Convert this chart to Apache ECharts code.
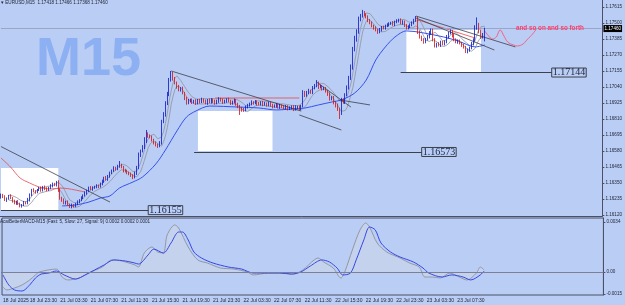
<!DOCTYPE html>
<html><head><meta charset="utf-8">
<script src="https://cdn.jsdelivr.net/npm/echarts@6/dist/echarts.min.js"></script>
<style>html,body{margin:0;padding:0;background:#BACDF4}#c{width:625px;height:305px}</style>
</head><body><div id="c"></div>
<script>
// prices are stored as points above BASE (1 point = 0.00001)
const BASE = 1.16;
const firstOpen = 250;
const closes = [
264,250,228,240,255,242,220,206,215,200,
185,192,210,205,228,265,300,290,285,300,
312,298,321,310,300,315,330,343,335,350,
300,242,225,206,215,195,178,190,185,199,
215,228,245,260,278,295,314,305,318,321,
330,325,343,362,386,375,400,422,440,458,
450,470,479,465,440,436,425,415,405,393,
420,458,551,580,602,650,702,690,681,660,
637,625,616,637,788,839,920,983,1090,1130,
1100,1069,1040,1018,1030,997,960,925,940,947,
930,940,925,945,932,950,939,925,945,932,
950,935,925,940,955,945,930,939,950,940,
925,932,945,920,900,889,880,875,895,910,
918,930,925,935,920,918,930,915,920,911,
925,910,900,903,915,895,905,903,890,900,
885,889,900,880,895,896,885,903,997,980,
1000,1011,1000,1033,1050,1069,1040,1045,1026,1030,
1011,990,954,965,930,911,880,853,947,930,
983,1033,1100,1177,1306,1380,1435,1522,1550,1572,
1560,1543,1520,1500,1480,1464,1450,1435,1450,1470,
1464,1480,1486,1495,1500,1490,1507,1515,1522,1500,
1510,1480,1464,1475,1486,1500,1520,1536,1435,1400,
1380,1363,1385,1399,1430,1450,1380,1334,1350,1340,
1363,1350,1363,1400,1428,1442,1410,1380,1363,1370,
1356,1340,1327,1292,1305,1320,1350,1378,1464,1486,
1440,1399,1418,1460];
const upWick = [
10,8,12,6,9,14,7,10,8,12, 9,7,11,6,15,10,8,12,9,7, 10,13,8,11,9,7,12,10,8,15,
20,12,9,14,8,10,7,12,9,8, 10,6,9,8,12,7,10,14,8,9, 11,8,10,12,9,14,8,10,7,12,
9,11,29,10,8,12,9,7,10,8, 12,15,18,10,20,29,29,12,9,10, 8,11,9,14,16,20,18,22,15,25,
18,12,10,15,9,12,8,10,14,9, 11,8,12,9,10,13,8,11,9,12, 10,8,14,9,11,7,12,10,9,13,
8,10,12,9,7,11,8,10,12,9, 10,14,8,11,9,12,8,10,13,9, 11,8,10,12,9,7,13,10,8,11,
9,12,8,10,14,9,11,8,20,15, 12,16,10,14,12,21,10,12,9,11, 10,8,12,9,11,8,10,12,15,10,
12,18,20,25,22,28,20,24,15,22, 14,10,12,9,11,8,12,10,14,9, 11,8,12,10,9,14,10,12,9,11,
10,8,12,9,11,12,10,14,10,12, 9,11,8,14,12,10,9,11,8,12, 10,9,12,14,10,12,8,11,9,10,
11,8,10,9,12,10,14,12,20,54, 15,12,10,6];
const dnWick = [
12,9,8,14,10,7,11,9,13,8, 10,12,7,9,8,11,10,7,12,9, 8,11,9,12,10,7,9,12,8,10,
14,12,10,9,11,8,8,10,12,9, 8,11,9,10,7,12,9,8,11,10, 9,12,8,10,11,7,9,12,8,10,
11,8,10,9,14,10,12,9,11,15, 10,12,9,14,10,8,12,15,10,12, 10,12,14,9,11,8,12,10,9,11,
14,10,12,9,11,10,14,12,9,11, 12,9,14,10,11,8,12,10,13,9, 11,10,12,9,14,10,11,8,12,10,
14,12,10,15,12,50,18,14,10,9, 11,10,12,9,14,10,11,13,9,12, 10,12,14,9,11,10,12,15,10,12,
14,11,10,13,9,12,10,11,9,12, 10,12,9,11,10,12,14,10,12,9, 11,14,12,10,15,18,12,43,14,10,
12,10,11,9,12,10,14,12,10,11, 12,10,14,9,11,12,10,13,9,11, 10,12,9,11,8,10,12,9,11,10,
12,9,11,10,12,9,10,11,14,12, 10,12,9,11,10,14,12,10,11,9, 12,10,11,9,12,10,14,11,9,12,
10,12,11,8,10,12,9,11,10,12, 14,12,10,50];
// slow blue moving average: [bar, points]
const blueMA = [[32,185],[39,192],[46,213],[52,242],[57,257],[62,314],[69,357],[74,393],[81,487],[86,587],[92,724],[97,824],[102,868],[109,903],[124,896],[135,889],[144,875],[152,882],[159,889],[166,911],[173,932],[178,947],[185,997],[191,1090],[196,1234],[201,1328],[206,1399],[212,1443],[229,1407],[239,1371],[248,1328],[253,1342]];
// MACD (units of 0.0001): [bar, value]
const macdMain = [[0,-10.2],[2,-12.2],[6,-10.9],[10,-8.8],[14,-5.4],[17,-2.0],[19,0],[28,2.0],[31,-3.4],[34,-5.4],[40,-4.1],[45,-0.7],[52,3.4],[57,8.2],[62,7.5],[69,4.8],[71,3.4],[74,12.9],[78,17.0],[81,13.6],[84,12.9],[86,25.2],[90,32.0],[92,29.9],[97,17.0],[102,8.2],[107,6.1],[114,2.7],[121,2.0],[128,0],[131,-2.0],[139,-0.7],[145,-0.7],[152,-1.4],[157,1.4],[163,8.2],[165,9.5],[168,6.8],[173,2.7],[177,-4.1],[179,0],[183,15.0],[187,28.6],[190,33.3],[192,30.6],[196,19.7],[201,13.6],[208,9.5],[213,6.1],[218,3.4],[221,-3.4],[225,-3.4],[229,-4.1],[234,-0.7],[239,-3.4],[243,-5.4],[248,-0.7],[250,3.4],[252,1.4]];
const macdSignal = [[0,-2.0],[3,-8.8],[6,-12.2],[10,-12.9],[14,-8.8],[17,-4.1],[20,-1.4],[24,-0.7],[28,0.7],[32,-2.0],[38,-4.8],[43,-2.0],[48,1.4],[53,4.8],[58,8.2],[64,7.5],[69,6.1],[71,5.4],[76,11.6],[79,15.6],[84,12.9],[88,19.7],[92,27.2],[94,27.2],[97,21.8],[100,13.6],[104,9.5],[110,6.1],[118,3.4],[125,2.0],[131,-0.7],[139,-0.7],[145,-0.7],[151,-1.4],[156,0],[161,4.1],[167,8.2],[171,6.8],[175,2.7],[178,-2.0],[182,-0.7],[185,8.2],[189,21.8],[192,30.6],[195,28.6],[198,19.7],[203,13.6],[208,10.2],[215,6.8],[220,2.7],[223,-0.7],[230,-3.4],[235,-2.0],[241,-3.4],[245,-5.4],[250,-2.0],[252,0.7]];
// red drawn lines [bar, points]
const redLeft = [[0,530],[5,465],[10,386],[15,350],[20,321],[26,307],[31,314],[36,307],[44,285]];
const redMid = [[112,961],[156,961]];
const redRight = [[218,1522],[248,1392]];
const redWave = [[253,1442],[255,1407],[257,1385],[259,1399],[260,1428],[261,1450],[263,1407],[265,1363],[268,1342],[270,1335],[273,1349],[275,1378],[278,1421],[280,1457]];
const timeLabelIdx = [0,14,30,46,62,78,94,110,126,142,158,174,190,206,222,238];
const timeLabels = ["18 Jul 2025","18 Jul 23:30","21 Jul 03:30","21 Jul 07:30","21 Jul 11:30","21 Jul 15:30","21 Jul 19:30","21 Jul 23:30","22 Jul 03:30","22 Jul 07:30","22 Jul 11:30","22 Jul 15:30","22 Jul 19:30","22 Jul 23:30","23 Jul 03:30","23 Jul 07:30"];
const priceTicks = [1.16120,1.16235,1.16350,1.16465,1.16580,1.16695,1.16810,1.16925,1.17040,1.17155,1.17270,1.17385,1.17500,1.17615];
const macdTicks = [-0.0015,0,0.0034];
const levels = [[1.16155,0,77],[1.16573,101,220],[1.17144,209,288]];
const boxes = [[0,30,1.16458,1.16156],[103,142,1.16867,1.16580],[212,251,1.17450,1.17148]];
const trendLines = [[0,612,57,213],[89,1155,157,867],[156,839,178,731],[177,947,193,911],[165,1076,183,896],[217,1550,269,1328],[217,1536,258,1306]];
const lastPrice = 1.17460;
const NCAT = 315;

const P = v => +(BASE + v/100000).toFixed(5);
const cats = Array.from({length:NCAT},(_, i)=>String(i));
const opens = closes.map((c,i)=> i===0 ? firstOpen : closes[i-1]);
const highs = closes.map((c,i)=> Math.max(c,opens[i]) + upWick[i]);
const lows  = closes.map((c,i)=> Math.min(c,opens[i]) - dnWick[i]);
const candles = closes.map((c,i)=>[P(opens[i]),P(c),P(lows[i]),P(highs[i])]);
function sma(arr,n){return arr.map((_,i)=>{ if(i<n-1) return null; let s=0; for(let k=i-n+1;k<=i;k++) s+=arr[k]; return +(s/n).toFixed(5);});}
const hiP = highs.map(P), loP = lows.map(P);
const toPts = a => a.map(d=>[d[0],P(d[1])]);
const labelMap = {}; timeLabelIdx.forEach((k,i)=>labelMap[k]=timeLabels[i]);

const AX = '#4b5066', TXT = '#1c2236';
const chart = echarts.init(document.getElementById('c'), null, {renderer:'canvas'});
chart.setOption({
  animation:false,
  backgroundColor:'#BACDF4',
  grid:[
    {left:0,right:20,top:0,height:216},
    {left:0,right:20,top:218,height:77,show:true,borderColor:AX,borderWidth:1}
  ],
  xAxis:[
    {type:'category',gridIndex:0,data:cats,boundaryGap:true,axisLine:{show:true,lineStyle:{color:AX}},axisTick:{show:false},axisLabel:{show:false},splitLine:{show:false}},
    {type:'category',gridIndex:1,data:cats,boundaryGap:true,axisLine:{show:true,lineStyle:{color:AX}},
      axisTick:{show:false},
      axisLabel:{interval:(i)=>labelMap[i]!==undefined,formatter:(v,i)=>labelMap[i]||'',fontSize:5,color:TXT,align:'left',margin:3,fontFamily:'Liberation Sans'},splitLine:{show:false}}
  ],
  yAxis:[
    {type:'value',gridIndex:0,position:'right',min:1.161128,max:1.176653,
      axisLine:{show:true,lineStyle:{color:AX}},
      axisTick:{show:true,length:2,lineStyle:{color:AX},customValues:priceTicks},
      axisLabel:{customValues:priceTicks,formatter:v=>v.toFixed(5),fontSize:4.6,color:TXT,margin:3,fontFamily:'Liberation Sans'},
      splitLine:{show:false}},
    {type:'value',gridIndex:1,position:'right',min:-0.001564,max:0.003672,
      axisLine:{show:true,lineStyle:{color:AX}},
      axisTick:{show:true,length:2,lineStyle:{color:AX},customValues:macdTicks},
      axisLabel:{customValues:macdTicks,formatter:v=>v===0?'0.00':String(+v.toFixed(4)),fontSize:4.6,color:TXT,margin:3,fontFamily:'Liberation Sans'},
      splitLine:{show:false}}
  ],
  graphic:[
    {type:'text',left:36,top:33,z:0,style:{text:'M15',font:'bold 54px "Liberation Sans"',fill:'#8DB0F2'}},
    {type:'text',left:1,top:0,z:100,style:{text:'\u25BE EURUSD,M15  1.17418 1.17466 1.17368 1.17460',font:'4.6px "Liberation Sans"',fill:TXT}},
    {type:'text',left:0,top:219.5,z:100,style:{text:'AcaiBetterMACD-M15 (Fast: 5, Slow: 27, Signal: 9) 0.0002 0.0002 0.0001',font:'4.6px "Liberation Sans"',fill:TXT}},
    {type:'text',left:516,top:25.5,z:100,style:{text:'and so on and so forth',font:'bold 6.3px "Liberation Sans"',fill:'#FF3C68'}}
  ],
  series:[
    {type:'line',xAxisIndex:0,yAxisIndex:0,data:[],z:1,silent:true,
      markArea:{silent:true,itemStyle:{color:'#ffffff',opacity:1},
        data:boxes.map(b=>[{coord:[b[0],b[2]]},{coord:[b[1],b[3]]}])}},
    {type:'line',xAxisIndex:0,yAxisIndex:0,data:[],z:2,silent:true,
      markLine:{silent:true,symbol:'none',
        data:[[{coord:[0,lastPrice]},{coord:[NCAT-1,lastPrice],lineStyle:{color:'#9aa6c6',width:1,type:'solid'},
          label:{show:true,position:'end',distance:2,formatter:lastPrice.toFixed(5),color:'#fff',backgroundColor:'#000',fontSize:4.6,padding:[1,1],fontFamily:'Liberation Sans'}}]]}},
    {name:'hiMA',type:'line',xAxisIndex:0,yAxisIndex:0,data:sma(hiP,5),showSymbol:false,z:3,lineStyle:{color:'#8e929e',width:0.8}},
    {name:'loMA',type:'line',xAxisIndex:0,yAxisIndex:0,data:sma(loP,5),showSymbol:false,z:3,lineStyle:{color:'#8e929e',width:0.8}},
    {name:'blue',type:'line',xAxisIndex:0,yAxisIndex:0,data:toPts(blueMA),showSymbol:false,smooth:0.3,z:3,lineStyle:{color:'#3552ee',width:1}},
    {type:'line',xAxisIndex:0,yAxisIndex:0,data:toPts(redLeft),showSymbol:false,smooth:0.3,z:3,lineStyle:{color:'#e8484c',width:0.8}},
    {type:'line',xAxisIndex:0,yAxisIndex:0,data:toPts(redMid),showSymbol:false,z:3,lineStyle:{color:'#e8484c',width:0.8}},
    {type:'line',xAxisIndex:0,yAxisIndex:0,data:toPts(redRight),showSymbol:false,z:3,lineStyle:{color:'#e8484c',width:0.8}},
    {type:'line',xAxisIndex:0,yAxisIndex:0,data:toPts(redWave),showSymbol:false,smooth:0.4,z:3,lineStyle:{color:'#ff4a6a',width:0.8}},
    {name:'EURUSD',type:'candlestick',xAxisIndex:0,yAxisIndex:0,data:candles,z:5,barWidth:1.3,
      itemStyle:{color:'#0a14c8',color0:'#d01010',borderColor:'#0a14c8',borderColor0:'#d01010',borderWidth:0.8}},
    {type:'line',xAxisIndex:0,yAxisIndex:0,data:[],z:6,silent:true,
      markLine:{silent:true,symbol:'none',animation:false,
        data:[
          ...trendLines.map(t=>[{coord:[t[0],P(t[1])]},{coord:[t[2],P(t[3])],lineStyle:{color:'#3c3f4c',width:0.8,type:'solid'},label:{show:false}}]),
          ...levels.map(l=>[{coord:[l[1],l[0]]},{coord:[l[2],l[0]],lineStyle:{color:'#3c3f4c',width:1,type:'solid'},
            label:{show:true,position:'end',distance:0,formatter:l[0].toFixed(5),fontFamily:'Liberation Serif',fontSize:10,color:'#1b2440',borderColor:'#3c3f4c',borderWidth:1,padding:[0,1,-1,1]}}])
        ]}},
    {name:'MACD',type:'line',xAxisIndex:1,yAxisIndex:1,data:macdMain.map(d=>[d[0],d[1]/10000]),showSymbol:false,smooth:0.3,z:3,
      lineStyle:{color:'#8d919e',width:0.9},areaStyle:{color:'rgba(212,216,226,0.6)'},
      markLine:{silent:true,symbol:'none',data:[{yAxis:0}],lineStyle:{color:'#7b8094',width:1,type:'solid'},label:{show:false}}},
    {name:'Signal',type:'line',xAxisIndex:1,yAxisIndex:1,data:macdSignal.map(d=>[d[0],d[1]/10000]),showSymbol:false,smooth:0.3,z:4,
      lineStyle:{color:'#3548e6',width:1}}
  ]
});
</script></body></html>
